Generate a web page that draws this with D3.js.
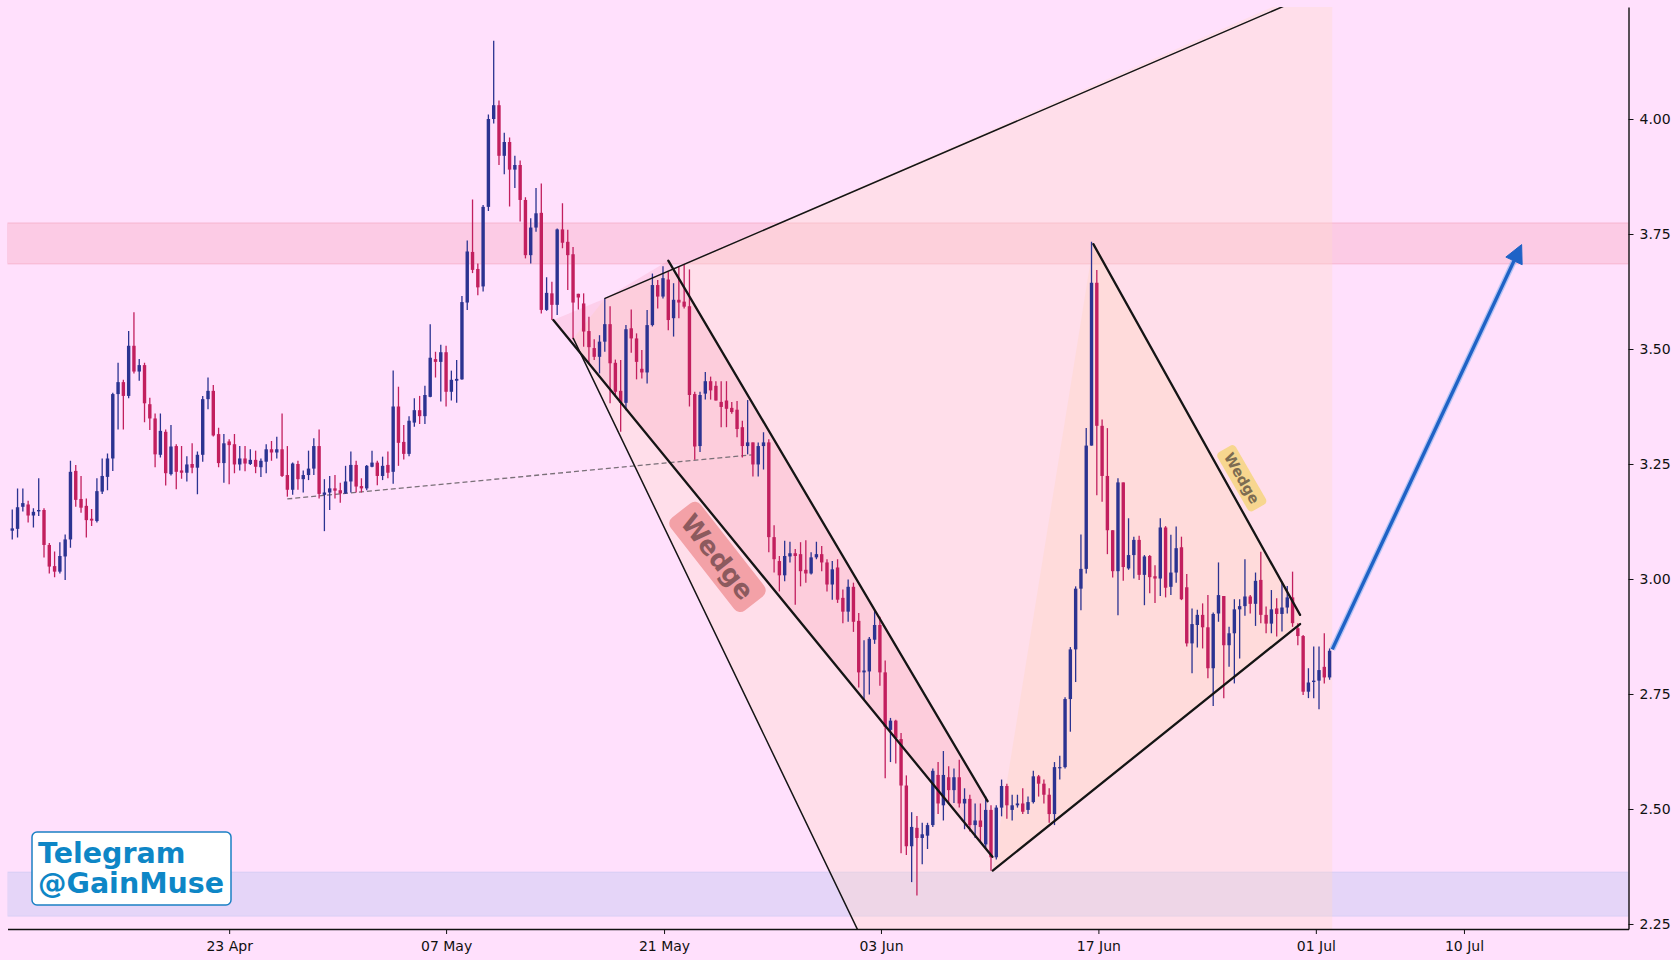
<!DOCTYPE html>
<html>
<head>
<meta charset="utf-8">
<script src="https://cdn.jsdelivr.net/npm/d3@7"></script>
<style>
  html, body { margin: 0; padding: 0; background: #ffe0fc; }
  svg { display: block; }
</style>
</head>
<body>
<script>
const opens = [
  3.105, 3.109, 3.157, 3.162, 3.138, 3.147, 3.150, 3.074, 3.028, 3.016,
  3.049, 3.086, 3.235, 3.174, 3.159, 3.131, 3.126, 3.190, 3.222, 3.262,
  3.402, 3.428, 3.398, 3.507, 3.451, 3.465, 3.380, 3.349, 3.270, 3.320,
  3.228, 3.289, 3.236, 3.231, 3.250, 3.242, 3.270, 3.391, 3.409, 3.315,
  3.252, 3.299, 3.293, 3.249, 3.262, 3.250, 3.259, 3.243, 3.255, 3.282,
  3.275, 3.282, 3.226, 3.194, 3.250, 3.217, 3.226, 3.240, 3.289, 3.183,
  3.188, 3.197, 3.193, 3.186, 3.212, 3.248, 3.202, 3.197, 3.244, 3.253,
  3.224, 3.248, 3.233, 3.375, 3.298, 3.272, 3.340, 3.367, 3.354, 3.396,
  3.478, 3.472, 3.493, 3.407, 3.431, 3.434, 3.601, 3.711, 3.674, 3.636,
  3.809, 4.000, 4.030, 3.920, 3.950, 3.890, 3.900, 3.824, 3.704, 3.764,
  3.796, 3.585, 3.621, 3.596, 3.760, 3.733, 3.706, 3.620, 3.599, 3.539,
  3.502, 3.483, 3.516, 3.554, 3.470, 3.409, 3.383, 3.545, 3.523, 3.457,
  3.449, 3.552, 3.639, 3.614, 3.651, 3.567, 3.607, 3.603, 3.593, 3.402,
  3.289, 3.403, 3.430, 3.420, 3.385, 3.388, 3.372, 3.368, 3.330, 3.289,
  3.297, 3.249, 3.289, 3.297, 3.091, 3.039, 3.008, 3.049, 3.056, 3.054,
  3.020, 3.012, 3.047, 3.054, 3.036, 2.988, 3.025, 2.959, 2.929, 2.983,
  2.909, 2.797, 2.799, 2.868, 2.900, 2.797, 2.672, 2.692, 2.652, 2.551,
  2.419, 2.459, 2.437, 2.442, 2.465, 2.574, 2.508, 2.569, 2.541, 2.569,
  2.512, 2.522, 2.465, 2.475, 2.423, 2.498, 2.395, 2.503, 2.550, 2.498,
  2.508, 2.512, 2.498, 2.515, 2.571, 2.555, 2.531, 2.489, 2.590, 2.591,
  2.739, 2.847, 2.979, 3.022, 3.290, 3.644, 3.333, 3.224, 3.106, 3.017,
  3.210, 3.023, 3.052, 3.085, 3.009, 3.050, 3.006, 3.001, 3.112, 2.983,
  3.014, 3.069, 2.982, 2.860, 2.900, 2.922, 2.895, 2.806, 2.925, 2.963,
  2.856, 2.882, 2.934, 2.941, 2.962, 2.946, 2.998, 2.922, 2.903, 2.936,
  2.924, 2.938, 2.960, 2.893, 2.876, 2.755, 2.776, 2.779, 2.809, 2.786,
];
const highs = [
  3.151, 3.197, 3.197, 3.170, 3.154, 3.219, 3.154, 3.078, 3.060, 3.080,
  3.097, 3.257, 3.248, 3.224, 3.175, 3.152, 3.219, 3.262, 3.273, 3.405,
  3.470, 3.433, 3.539, 3.580, 3.478, 3.470, 3.394, 3.360, 3.360, 3.325,
  3.335, 3.293, 3.289, 3.267, 3.295, 3.277, 3.398, 3.438, 3.422, 3.329,
  3.315, 3.304, 3.315, 3.289, 3.289, 3.282, 3.279, 3.262, 3.293, 3.300,
  3.309, 3.360, 3.289, 3.253, 3.257, 3.236, 3.279, 3.306, 3.325, 3.217,
  3.224, 3.226, 3.209, 3.246, 3.277, 3.257, 3.219, 3.248, 3.279, 3.257,
  3.266, 3.277, 3.453, 3.418, 3.335, 3.354, 3.393, 3.398, 3.420, 3.554,
  3.494, 3.509, 3.507, 3.453, 3.476, 3.615, 3.736, 3.825, 3.686, 3.813,
  4.010, 4.170, 4.040, 3.970, 3.960, 3.920, 3.910, 3.830, 3.784, 3.850,
  3.860, 3.656, 3.646, 3.762, 3.817, 3.759, 3.722, 3.620, 3.621, 3.570,
  3.521, 3.530, 3.610, 3.593, 3.477, 3.476, 3.552, 3.586, 3.534, 3.498,
  3.585, 3.664, 3.650, 3.680, 3.668, 3.643, 3.679, 3.683, 3.673, 3.407,
  3.407, 3.450, 3.440, 3.430, 3.430, 3.430, 3.385, 3.387, 3.344, 3.389,
  3.297, 3.297, 3.319, 3.304, 3.117, 3.050, 3.083, 3.081, 3.065, 3.080,
  3.084, 3.058, 3.081, 3.072, 3.043, 3.039, 3.043, 2.977, 2.999, 2.992,
  2.926, 2.867, 2.874, 2.933, 2.918, 2.823, 2.698, 2.694, 2.665, 2.573,
  2.493, 2.485, 2.470, 2.470, 2.588, 2.602, 2.626, 2.593, 2.588, 2.607,
  2.545, 2.531, 2.512, 2.512, 2.527, 2.508, 2.508, 2.564, 2.555, 2.531,
  2.531, 2.545, 2.527, 2.583, 2.574, 2.564, 2.545, 2.602, 2.616, 2.743,
  2.852, 2.984, 3.097, 3.328, 3.733, 3.672, 3.347, 3.328, 3.106, 3.219,
  3.210, 3.132, 3.092, 3.094, 3.052, 3.052, 3.030, 3.132, 3.115, 3.096,
  3.114, 3.092, 3.011, 2.936, 2.933, 2.947, 2.965, 2.927, 3.036, 2.963,
  2.896, 2.956, 2.956, 3.043, 2.965, 3.014, 3.059, 2.940, 2.976, 2.958,
  2.994, 2.985, 3.016, 2.904, 2.878, 2.806, 2.853, 2.853, 2.882, 2.849,
];
const lows = [
  3.086, 3.090, 3.147, 3.123, 3.112, 3.137, 3.047, 3.012, 3.004, 3.012,
  2.998, 3.068, 3.157, 3.144, 3.090, 3.115, 3.123, 3.185, 3.193, 3.235,
  3.325, 3.325, 3.393, 3.447, 3.431, 3.341, 3.324, 3.243, 3.264, 3.203,
  3.225, 3.195, 3.218, 3.212, 3.230, 3.184, 3.255, 3.369, 3.310, 3.243,
  3.209, 3.206, 3.230, 3.236, 3.234, 3.248, 3.230, 3.222, 3.230, 3.257,
  3.262, 3.222, 3.179, 3.183, 3.194, 3.188, 3.215, 3.226, 3.175, 3.104,
  3.150, 3.175, 3.166, 3.185, 3.188, 3.188, 3.188, 3.193, 3.243, 3.204,
  3.215, 3.219, 3.207, 3.246, 3.260, 3.267, 3.331, 3.337, 3.337, 3.395,
  3.438, 3.386, 3.375, 3.388, 3.383, 3.433, 3.585, 3.665, 3.617, 3.625,
  3.800, 3.990, 3.900, 3.880, 3.810, 3.850, 3.777, 3.697, 3.686, 3.755,
  3.577, 3.583, 3.563, 3.574, 3.719, 3.628, 3.521, 3.586, 3.505, 3.470,
  3.476, 3.447, 3.494, 3.382, 3.396, 3.320, 3.367, 3.492, 3.434, 3.436,
  3.425, 3.549, 3.588, 3.610, 3.541, 3.527, 3.567, 3.588, 3.375, 3.259,
  3.276, 3.390, 3.390, 3.388, 3.330, 3.330, 3.359, 3.308, 3.264, 3.271,
  3.223, 3.223, 3.238, 3.058, 3.014, 2.973, 2.995, 3.036, 2.944, 2.984,
  2.992, 3.010, 3.043, 3.017, 2.973, 2.955, 2.948, 2.904, 2.907, 2.885,
  2.764, 2.738, 2.749, 2.859, 2.768, 2.567, 2.602, 2.599, 2.404, 2.400,
  2.341, 2.312, 2.380, 2.413, 2.461, 2.489, 2.475, 2.513, 2.513, 2.503,
  2.456, 2.451, 2.437, 2.428, 2.413, 2.366, 2.390, 2.484, 2.479, 2.475,
  2.503, 2.489, 2.489, 2.512, 2.527, 2.512, 2.470, 2.465, 2.564, 2.588,
  2.668, 2.776, 2.932, 3.012, 3.290, 3.182, 3.168, 3.054, 3.003, 2.921,
  2.996, 3.020, 3.001, 2.998, 2.943, 2.969, 2.948, 2.963, 2.960, 2.965,
  2.992, 2.954, 2.853, 2.795, 2.851, 2.849, 2.784, 2.724, 2.907, 2.741,
  2.809, 2.773, 2.827, 2.920, 2.925, 2.898, 2.904, 2.882, 2.882, 2.875,
  2.886, 2.925, 2.896, 2.856, 2.748, 2.741, 2.741, 2.717, 2.773, 2.781,
];
const closes = [
  3.110, 3.156, 3.165, 3.138, 3.146, 3.150, 3.074, 3.027, 3.016, 3.050,
  3.086, 3.233, 3.172, 3.155, 3.128, 3.127, 3.191, 3.224, 3.262, 3.402,
  3.428, 3.398, 3.507, 3.451, 3.465, 3.382, 3.349, 3.271, 3.322, 3.230,
  3.288, 3.233, 3.231, 3.249, 3.242, 3.270, 3.391, 3.409, 3.312, 3.252,
  3.295, 3.291, 3.249, 3.262, 3.251, 3.259, 3.244, 3.257, 3.282, 3.275,
  3.282, 3.224, 3.194, 3.251, 3.217, 3.226, 3.240, 3.289, 3.185, 3.188,
  3.197, 3.192, 3.186, 3.212, 3.248, 3.201, 3.197, 3.246, 3.253, 3.224,
  3.246, 3.231, 3.375, 3.296, 3.272, 3.344, 3.367, 3.354, 3.400, 3.481,
  3.472, 3.493, 3.407, 3.433, 3.435, 3.602, 3.712, 3.672, 3.634, 3.809,
  4.000, 4.030, 3.920, 3.950, 3.890, 3.900, 3.824, 3.704, 3.764, 3.795,
  3.585, 3.622, 3.596, 3.760, 3.731, 3.704, 3.601, 3.612, 3.538, 3.504,
  3.483, 3.516, 3.554, 3.469, 3.407, 3.383, 3.543, 3.523, 3.472, 3.449,
  3.552, 3.639, 3.614, 3.654, 3.563, 3.607, 3.601, 3.592, 3.400, 3.288,
  3.400, 3.430, 3.410, 3.388, 3.374, 3.370, 3.363, 3.326, 3.289, 3.297,
  3.249, 3.289, 3.297, 3.091, 3.043, 3.008, 3.050, 3.056, 3.050, 3.017,
  3.012, 3.047, 3.054, 3.036, 2.988, 3.021, 2.955, 2.929, 2.983, 2.907,
  2.797, 2.801, 2.870, 2.900, 2.797, 2.679, 2.692, 2.654, 2.551, 2.419,
  2.461, 2.437, 2.445, 2.465, 2.583, 2.512, 2.574, 2.541, 2.569, 2.512,
  2.522, 2.465, 2.475, 2.461, 2.498, 2.395, 2.503, 2.550, 2.508, 2.508,
  2.512, 2.494, 2.515, 2.571, 2.555, 2.531, 2.489, 2.591, 2.591, 2.739,
  2.847, 2.979, 3.022, 3.290, 3.644, 3.333, 3.224, 3.106, 3.017, 3.210,
  3.026, 3.052, 3.085, 3.009, 3.049, 3.004, 3.001, 3.112, 2.981, 3.014,
  3.067, 2.956, 2.860, 2.902, 2.922, 2.895, 2.806, 2.924, 2.965, 2.856,
  2.882, 2.934, 2.941, 2.962, 2.946, 2.996, 2.922, 2.903, 2.934, 2.924,
  2.938, 2.960, 2.904, 2.876, 2.755, 2.775, 2.779, 2.802, 2.786, 2.844,
];

const yTicks = [2.25, 2.5, 2.75, 3.0, 3.25, 3.5, 3.75, 4.0];
const xTickIdx = [41, 82, 123.2, 164.2, 205.3, 246.4, 274.4];
const xTickLabels = ["23 Apr", "07 May", "21 May", "03 Jun", "17 Jun", "01 Jul", "10 Jul"];

// price zones [low, high]
const resistanceZone = [3.685, 3.774];
const supportZone = [2.267, 2.363];

// drawing anchors as [candle index, price]
const wedgeUpper = [[124.0, 3.692], [184.35, 2.517]];
const wedgeLower = [[102.27, 3.563], [185.27, 2.396]];
const rayUpper = [[112.04, 3.61], [240.7, 4.247]];
const rayLower = [[106.05, 3.523], [160.1, 2.23]];
const rayArea = [[106.05, 3.523], [112.04, 3.61], [249.5, 4.3], [249.5, 2.2], [161.4, 2.2]];
const wedgeArea = [[102.27, 3.563], [112.04, 3.61], [124.0, 3.692], [184.35, 2.517], [185.27, 2.396]];
const wedge2Upper = [[204.35, 3.728], [243.42, 2.922]];
const wedge2Lower = [[185.33, 2.366], [243.42, 2.902]];
const wedge2Area = [[185.33, 2.366], [204.35, 3.728], [243.42, 2.922], [243.42, 2.902]];
const neckline = [[51.98, 3.174], [139.77, 3.27]];
const target = [[249.5, 2.847], [285.3, 3.727]];
const wedgeLabels = [
  { i: 133.3, v: 3.048, angle: 52, size: 26, w: 118, h: 38, fill: "#f3a1a7", color: "#8c5a5e" },
  { i: 232.4, v: 3.219, angle: 60, size: 14.5, w: 68, h: 21, fill: "#f7d68f", color: "#7d6c52" },
];

const drawChart = () => {
  const width = 1680;
  const height = 960;
  const left = 7.5;
  const right = 1628.5;
  const top = 7;
  const bottom = 929;

  const xScale = d3.scaleLinear().domain([-0.9, 305.5]).range([left, right]);
  const yScale = d3.scaleLinear().domain([2.2391, 4.2435]).range([bottom, top]);

  const candles = d3.range(opens.length).map((i) => ({
    i,
    o: opens[i],
    h: highs[i],
    l: lows[i],
    c: closes[i],
  }));

  const svg = d3
    .select("body")
    .append("svg")
    .attr("width", width)
    .attr("height", height)
    .attr("viewBox", `0 0 ${width} ${height}`)
    .style("font-family", "'DejaVu Sans', sans-serif");

  svg.append("rect").attr("width", width).attr("height", height).attr("fill", "#ffe0fc");

  svg
    .append("clipPath")
    .attr("id", "plot")
    .append("rect")
    .attr("x", left)
    .attr("y", top)
    .attr("width", right - left)
    .attr("height", bottom - top);

  const plot = svg.append("g").attr("clip-path", "url(#plot)");
  const pt = ([i, v]) => [xScale(i), yScale(v)];
  const poly = (pts) => pts.map(pt).map((p) => p.join(",")).join(" ");

  // zones
  plot
    .append("rect")
    .attr("x", left)
    .attr("width", right - left)
    .attr("y", yScale(resistanceZone[1]))
    .attr("height", yScale(resistanceZone[0]) - yScale(resistanceZone[1]))
    .attr("fill", "rgba(245,140,160,0.25)")
    .attr("stroke", "rgba(240,150,175,0.45)");

  plot
    .append("rect")
    .attr("x", left)
    .attr("width", right - left)
    .attr("y", yScale(supportZone[1]))
    .attr("height", yScale(supportZone[0]) - yScale(supportZone[1]))
    .attr("fill", "rgba(175,190,240,0.32)")
    .attr("stroke", "rgba(175,190,240,0.3)");

  // pattern areas
  plot.append("polygon").attr("points", poly(rayArea)).attr("fill", "rgba(255,218,200,0.35)");
  plot.append("polygon").attr("points", poly(wedge2Area)).attr("fill", "rgba(255,210,175,0.25)");
  plot.append("polygon").attr("points", poly(wedgeArea)).attr("fill", "rgba(240,120,150,0.16)");

  plot
    .append("line")
    .attr("x1", pt(neckline[0])[0])
    .attr("y1", pt(neckline[0])[1])
    .attr("x2", pt(neckline[1])[0])
    .attr("y2", pt(neckline[1])[1])
    .attr("stroke", "#7a7078")
    .attr("stroke-width", 1.3)
    .attr("stroke-dasharray", "5,3");

  // candles
  const bodyW = 3.4;
  const groups = plot
    .append("g")
    .selectAll("g")
    .data(candles)
    .enter()
    .append("g")
    .attr("fill", (d) => (d.c >= d.o ? "#2b3391" : "#c21f5e"))
    .attr("stroke", (d) => (d.c >= d.o ? "#2b3391" : "#c21f5e"));

  groups
    .append("line")
    .attr("x1", (d) => xScale(d.i))
    .attr("x2", (d) => xScale(d.i))
    .attr("y1", (d) => yScale(d.h))
    .attr("y2", (d) => yScale(d.l))
    .attr("stroke-width", 1.3);

  groups
    .append("rect")
    .attr("stroke", "none")
    .attr("x", (d) => xScale(d.i) - bodyW / 2)
    .attr("width", bodyW)
    .attr("y", (d) => yScale(Math.max(d.o, d.c)))
    .attr("height", (d) => Math.max(1.2, Math.abs(yScale(d.o) - yScale(d.c))));

  // trend lines
  const lines = [
    { p: wedgeUpper, w: 2.3 },
    { p: wedgeLower, w: 2.3 },
    { p: rayUpper, w: 1.5 },
    { p: rayLower, w: 1.5 },
    { p: wedge2Upper, w: 2.3 },
    { p: wedge2Lower, w: 2.3 },
  ];

  plot
    .append("g")
    .selectAll("line")
    .data(lines)
    .enter()
    .append("line")
    .attr("x1", (d) => pt(d.p[0])[0])
    .attr("y1", (d) => pt(d.p[0])[1])
    .attr("x2", (d) => pt(d.p[1])[0])
    .attr("y2", (d) => pt(d.p[1])[1])
    .attr("stroke", "#151515")
    .attr("stroke-width", (d) => d.w)
    .attr("stroke-linecap", "round");

  // wedge labels
  const labels = svg
    .append("g")
    .selectAll("g")
    .data(wedgeLabels)
    .enter()
    .append("g")
    .attr("transform", (d) => `translate(${xScale(d.i)} ${yScale(d.v)}) rotate(${d.angle})`);

  labels
    .append("rect")
    .attr("x", (d) => -d.w / 2)
    .attr("y", (d) => -d.h / 2)
    .attr("width", (d) => d.w)
    .attr("height", (d) => d.h)
    .attr("rx", (d) => d.h / 5)
    .attr("fill", (d) => d.fill);

  labels
    .append("text")
    .text("Wedge")
    .attr("text-anchor", "middle")
    .attr("dominant-baseline", "central")
    .attr("font-weight", "bold")
    .attr("font-size", (d) => d.size)
    .attr("fill", (d) => d.color);

  // target arrow
  const [a0, a1] = target.map(pt);
  const ang = Math.atan2(a1[1] - a0[1], a1[0] - a0[0]);
  const headLen = 18;
  const headW = 9;
  const base = [a1[0] - headLen * Math.cos(ang), a1[1] - headLen * Math.sin(ang)];
  const nx = -Math.sin(ang);
  const ny = Math.cos(ang);

  svg
    .append("line")
    .attr("x1", a0[0])
    .attr("y1", a0[1])
    .attr("x2", base[0])
    .attr("y2", base[1])
    .attr("stroke", "#86b2f0")
    .attr("stroke-width", 6)
    .attr("stroke-opacity", 0.6);

  svg
    .append("line")
    .attr("x1", a0[0])
    .attr("y1", a0[1])
    .attr("x2", base[0])
    .attr("y2", base[1])
    .attr("stroke", "#1f62c6")
    .attr("stroke-width", 3.4);

  svg
    .append("polygon")
    .attr(
      "points",
      [a1, [base[0] + nx * headW, base[1] + ny * headW], [base[0] - nx * headW, base[1] - ny * headW]]
        .map((p) => p.join(","))
        .join(" ")
    )
    .attr("fill", "#1f62c6")
    .attr("stroke", "#1f62c6")
    .attr("stroke-linejoin", "round");

  // axes
  const yAxis = d3
    .axisRight(yScale)
    .tickValues(yTicks)
    .tickFormat(d3.format(".2f"))
    .tickSize(5)
    .tickSizeOuter(0)
    .tickPadding(6);

  const xAxis = d3
    .axisBottom(xScale)
    .tickValues(xTickIdx)
    .tickFormat((d, k) => xTickLabels[k])
    .tickSize(5)
    .tickSizeOuter(0)
    .tickPadding(7);

  const yG = svg.append("g").attr("transform", `translate(${right} 0)`).call(yAxis);
  const xG = svg.append("g").attr("transform", `translate(0 ${bottom})`).call(xAxis);

  [yG, xG].forEach((g) => {
    g.selectAll("text")
      .attr("font-size", 14)
      .attr("font-family", "'DejaVu Sans', sans-serif")
      .attr("fill", "#111");
    g.select(".domain").attr("stroke", "#111").attr("stroke-width", 1.4);
    g.selectAll(".tick line").attr("stroke", "#111");
  });

  // watermark
  const badge = svg.append("g").attr("transform", "translate(32 832)");
  badge
    .append("rect")
    .attr("width", 199)
    .attr("height", 73)
    .attr("rx", 5)
    .attr("fill", "#ffffff")
    .attr("stroke", "#1b80c4")
    .attr("stroke-width", 1.5);

  badge
    .selectAll("text")
    .data(["Telegram", "@GainMuse"])
    .enter()
    .append("text")
    .attr("x", 6)
    .attr("y", (d, k) => 31 + k * 30)
    .text((d) => d)
    .attr("font-size", 28.5)
    .attr("font-weight", "bold")
    .attr("fill", "#0e86c6");
};

drawChart();
</script>
</body>
</html>
